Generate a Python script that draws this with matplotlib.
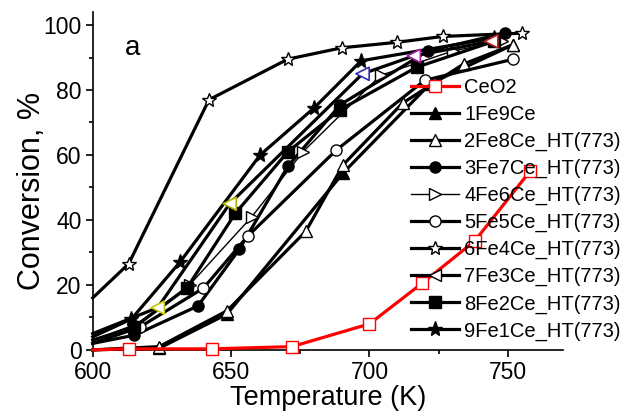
import matplotlib.pyplot as plt
from matplotlib.ticker import MultipleLocator

plt.rcParams['font.family'] = ['Liberation Sans', 'DejaVu Sans']

t_ceo2 = [600, 613, 643, 672, 700, 719, 738, 758]
c_ceo2 = [0, 0.3, 0.3, 1, 8, 20.5, 33.5, 55]

t_1fe = [600, 624, 648.5, 690.5, 722, 752]
c_1fe = [0, 0.5, 11, 54.5, 82, 94]

t_2fe = [600, 624, 648.5, 677, 690.5, 712, 734, 752]
c_2fe = [0, 1, 12, 36.5, 57, 76, 88, 94]

t_3fe = [600, 615, 638, 653, 670.5, 689.5, 721, 749]
c_3fe = [2, 4.5, 13.5, 31, 56.5, 75.5, 92, 97.5]

t_4fe = [600, 616, 635, 657.5, 676, 704, 730, 748]
c_4fe = [3, 8, 20, 41, 61, 84.5, 92, 95]

t_5fe = [600, 617, 640, 656, 688, 720, 752]
c_5fe = [2, 7, 19, 35, 61.5, 83, 89.5]

t_6fe = [600, 613, 642, 670.5, 690, 710, 726.5, 755]
c_6fe = [16, 26.5, 77, 89.5, 93, 94.7, 96.5, 97.5]

t_7fe = [600, 623.5, 649.5, 697.5, 716, 744]
c_7fe = [5, 13, 45, 85, 90.5, 95]
col_7fe = ['none', '#c8c800', '#b0b000', '#3030b0', '#a020a0', '#c02020']

t_8fe = [600, 615, 634, 651.5, 670.5, 689.5, 717, 745]
c_8fe = [3, 7, 19, 42, 61, 74, 87, 95]

t_9fe = [600, 614, 631.5, 660.5, 680, 697, 745]
c_9fe = [4, 9.5, 27, 60, 74.5, 89, 96]

fig = plt.figure(figsize=(6.35, 4.16), dpi=100)
ax = fig.add_axes([0.146, 0.159, 0.741, 0.812])

lw = 2.3
ms = 8


def skip0(t):
    return list(range(1, len(t)))


ax.plot(t_1fe, c_1fe, '-^', color='k', lw=lw, ms=ms, markevery=skip0(t_1fe),
        label='1Fe9Ce', clip_on=False)
ax.plot(t_2fe, c_2fe, '-^', color='k', mfc='white', lw=lw, ms=ms, markevery=skip0(t_2fe),
        label='2Fe8Ce_HT(773)', clip_on=False)
ax.plot(t_3fe, c_3fe, '-o', color='k', lw=lw, ms=ms, markevery=skip0(t_3fe),
        label='3Fe7Ce_HT(773)', clip_on=False)
ax.plot(t_4fe, c_4fe, '->', color='k', mfc='white', lw=1.0, ms=ms, markevery=skip0(t_4fe),
        label='4Fe6Ce_HT(773)', clip_on=False)
ax.plot(t_5fe, c_5fe, '-o', color='k', mfc='white', lw=lw, ms=ms, markevery=skip0(t_5fe),
        label='5Fe5Ce_HT(773)', clip_on=False)
ax.plot(t_6fe, c_6fe, '-*', color='k', mfc='white', lw=lw, ms=ms + 2, mew=1,
        markevery=skip0(t_6fe), label='6Fe4Ce_HT(773)', clip_on=False)
# 7Fe3Ce: black line, markers with differing edge colours
ax.plot(t_7fe, c_7fe, '-', color='k', lw=lw, clip_on=False)
ax.scatter(t_7fe[1:], c_7fe[1:], marker='<', s=90, facecolors='white',
           edgecolors=col_7fe[1:], linewidths=1.2, zorder=3, clip_on=False)
ax.plot([], [], '-<', color='k', mfc='white', lw=lw, ms=ms, label='7Fe3Ce_HT(773)')
ax.plot(t_8fe, c_8fe, '-s', color='k', lw=lw, ms=ms, markevery=skip0(t_8fe),
        label='8Fe2Ce_HT(773)', clip_on=False)
ax.plot(t_9fe, c_9fe, '-*', color='k', lw=lw, ms=ms + 3, markevery=skip0(t_9fe),
        label='9Fe1Ce_HT(773)', clip_on=False)
ax.plot(t_ceo2, c_ceo2, '-s', color='red', mfc='white', mec='red', lw=lw, ms=ms,
        markevery=skip0(t_ceo2), label='CeO2', zorder=4, clip_on=False)

ax.set_xlim(600, 770)
ax.set_ylim(0, 104)
ax.xaxis.set_major_locator(MultipleLocator(50))
ax.xaxis.set_minor_locator(MultipleLocator(25))
ax.yaxis.set_major_locator(MultipleLocator(20))
ax.yaxis.set_minor_locator(MultipleLocator(10))
ax.spines['top'].set_visible(False)
ax.spines['right'].set_visible(False)
ax.spines['left'].set_linewidth(1.2)
ax.spines['bottom'].set_linewidth(1.2)
ax.tick_params(which='major', direction='out', length=5, width=1.2, labelsize=16.5, pad=3)
ax.tick_params(which='minor', direction='out', length=3, width=1.2)

ax.set_xlabel('Temperature (K)', fontsize=19.5, labelpad=1)
ax.set_ylabel('Conversion, %', fontsize=22)
ax.yaxis.set_label_coords(-0.097, 0.47)
ax.text(0.068, 0.873, 'a', transform=ax.transAxes, fontsize=20, va='baseline')

handles, labels = ax.get_legend_handles_labels()
order = ['CeO2', '1Fe9Ce', '2Fe8Ce_HT(773)', '3Fe7Ce_HT(773)', '4Fe6Ce_HT(773)',
         '5Fe5Ce_HT(773)', '6Fe4Ce_HT(773)', '7Fe3Ce_HT(773)', '8Fe2Ce_HT(773)',
         '9Fe1Ce_HT(773)']
hmap = dict(zip(labels, handles))
fig.legend([hmap[k] for k in order], order, loc='upper left',
           bbox_to_anchor=(0.647, 0.8125), frameon=False, fontsize=14.5,
           handlelength=2.4, handletextpad=0.25, labelspacing=0.39,
           borderpad=0, borderaxespad=0)

fig.savefig('out.png', dpi=100)
